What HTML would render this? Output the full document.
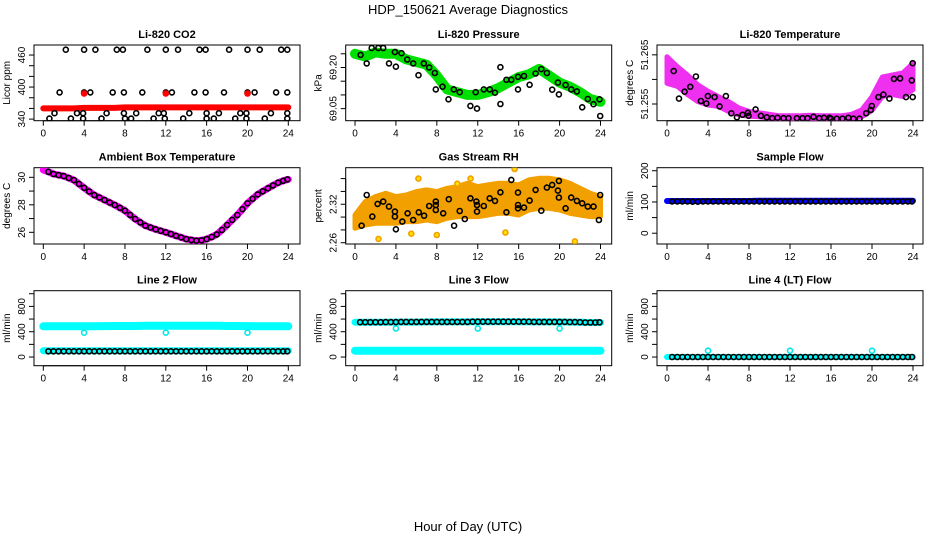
<!DOCTYPE html>
<html><head><meta charset="utf-8">
<style>
html,body{margin:0;padding:0;background:#fff;}
svg{display:block;font-family:"Liberation Sans",Arial,sans-serif;}
</style></head>
<body>
<svg id="chart" width="936" height="540" viewBox="0 0 936 540" xmlns="http://www.w3.org/2000/svg">
<text x="468" y="14" text-anchor="middle" font-size="13">HDP_150621  Average Diagnostics</text>
<text x="468" y="531" text-anchor="middle" font-size="13">Hour of Day (UTC)</text>
</svg>
<script>
// ---------- data ----------
const xTicks = [0,4,8,12,16,20,24];
// CO2
const co2Hours = [2.2,4.0,5.1,7.2,7.8,10.2,12.0,13.2,15.3,15.9,18.2,20.0,21.2,23.3,23.9,
 1.6,4.0,4.6,6.8,7.9,9.7,12.0,12.6,14.8,15.9,17.7,20.0,20.7,22.8,23.9,
 1.1,3.3,3.9,6.2,7.9,9.1,11.3,11.8,14.3,16.0,17.2,19.3,19.9,22.3,23.9,
 0.6,2.7,3.9,5.7,8.0,8.6,10.8,11.9,13.7,16.0,16.7,18.8,19.9,21.7,23.9];
const co2Vals = [470,470,470,470,470,470,470,470,470,470,470,470,470,470,470,
 390,390,390,390,390,390,390,390,390,390,390,390,390,390,390,
 351,351,351,351,351,351,351,351,351,351,351,351,351,351,351,
 341,341,341,341,341,341,341,341,341,341,341,341,341,341,341];
const co2Line = [360,360,360,360,361,361,361,361,362,362,362,362,362,362,362,362,362,362,362,362,362,362,362,362,362];
const co2RedHours = [4.0,12.0,20.0];
const co2RedVals = [388,388,388];
// Pressure
const presLine = [69.25,69.24,69.255,69.25,69.25,69.23,69.22,69.21,69.17,69.12,69.11,69.10,69.10,69.11,69.125,69.145,69.165,69.175,69.195,69.17,69.145,69.13,69.11,69.085,69.075];
const presHours = [0.55,1.14,1.63,2.28,2.76,3.32,3.9,4.0,4.55,5.1,5.69,6.21,6.73,7.25,7.8,7.9,8.55,9.14,9.66,10.24,11.28,11.8,11.93,12.59,13.17,13.69,14.21,14.21,14.8,15.28,15.93,15.93,16.52,17.07,17.66,18.21,18.76,19.28,19.84,19.93,20.59,21.14,21.69,22.21,22.76,23.32,23.9,23.97];
const presVals = [69.246,69.215,69.271,69.271,69.271,69.215,69.256,69.203,69.252,69.229,69.215,69.172,69.215,69.2,69.18,69.12,69.13,69.084,69.12,69.11,69.06,69.11,69.05,69.12,69.12,69.108,69.067,69.201,69.155,69.155,69.12,69.166,69.169,69.137,69.178,69.194,69.18,69.119,69.145,69.102,69.136,69.12,69.113,69.055,69.085,69.066,69.084,69.023];
// Li-820 temperature
const tempCenter = [51.2619,51.2606,51.2589,51.2572,51.2562,51.2555,51.2545,51.2535,51.2530,51.2528,51.2525,51.2523,51.2523,51.2523,51.2524,51.2523,51.2523,51.2523,51.2525,51.2531,51.2551,51.2585,51.2589,51.2589,51.2606];
const tempHalf = [0.0027,0.0020,0.0020,0.0017,0.0014,0.0010,0.0010,0.0007,0.0005,0.0004,0.0004,0.0003,0.0003,0.0003,0.0003,0.0003,0.0003,0.0003,0.0004,0.0007,0.0014,0.0020,0.0020,0.0024,0.0027];
const tempHours = [0.65,1.17,1.72,2.27,2.82,3.31,3.83,3.99,4.64,5.13,5.75,6.27,6.82,7.37,7.89,7.96,8.64,9.16,9.74,10.26,10.78,11.37,11.85,12.67,13.22,13.71,14.29,14.85,15.33,15.85,15.98,16.57,17.12,17.7,18.19,18.78,19.43,19.88,19.98,20.63,21.11,21.7,22.15,22.74,23.32,23.88,23.97,23.97];
const tempVals = [51.2617,51.2561,51.2575,51.2585,51.2606,51.2556,51.2551,51.2566,51.2564,51.2545,51.2566,51.2531,51.2523,51.2528,51.2532,51.2526,51.2539,51.2526,51.2523,51.2521,51.2522,51.2521,51.2521,51.2521,51.2521,51.2521,51.2524,51.2521,51.2522,51.2522,51.2520,51.2520,51.2520,51.2522,51.2520,51.2520,51.2531,51.2538,51.2546,51.2564,51.2569,51.2561,51.2601,51.2602,51.2564,51.2598,51.2564,51.2633];
// Ambient box temperature (every 0.5 h)
const ambVals = [30.53,30.4,30.24,30.16,30.09,29.95,29.8,29.52,29.24,28.97,28.71,28.53,28.35,28.17,27.99,27.78,27.57,27.27,26.97,26.72,26.48,26.35,26.22,26.11,26.0,25.88,25.75,25.63,25.51,25.45,25.39,25.42,25.51,25.66,25.85,26.17,26.53,26.9,27.26,27.68,28.11,28.44,28.76,28.98,29.2,29.41,29.61,29.75,29.85];
// Gas stream RH
const rhCenter = [2.2929,2.3059,2.3111,2.3137,2.3111,2.3137,2.3163,2.3189,2.3163,2.3215,2.3241,2.3267,2.3241,2.3267,2.3293,2.3293,2.3267,2.3345,2.3371,2.3371,2.3345,2.3293,2.3241,2.3189,2.3163];
const rhHalf = [0.0104,0.0182,0.0208,0.0234,0.0208,0.0208,0.0234,0.0234,0.0234,0.0234,0.0234,0.026,0.0234,0.0234,0.0234,0.0234,0.0234,0.0234,0.0234,0.0234,0.0234,0.0234,0.0208,0.0182,0.0156];
const rhOutHours = [6.2,11.3,15.6,2.3,21.5,8.0,5.5,14.7,10.0,19.0];
const rhOutVals = [2.360,2.360,2.375,2.266,2.262,2.272,2.274,2.276,2.352,2.350];
const rhHours = [0.65,1.14,1.69,2.21,2.76,3.32,3.9,3.9,4.0,4.62,5.14,5.69,6.24,6.76,7.25,7.9,7.9,7.9,8.62,9.17,9.69,10.24,10.73,11.28,11.87,11.93,11.93,12.59,13.17,13.69,14.21,14.8,15.28,15.93,15.93,15.93,16.52,17.07,17.66,18.21,18.76,19.28,19.84,19.93,19.93,20.59,21.14,21.69,22.21,22.76,23.32,23.84,23.97];
const rhVals = [2.2866,2.3345,2.3007,2.3205,2.3241,2.3163,2.3085,2.3007,2.2809,2.2929,2.3059,2.2955,2.3075,2.3022,2.3173,2.3241,2.3189,2.3111,2.3059,2.3278,2.2866,2.3095,2.297,2.3293,2.3241,2.3189,2.3085,2.3173,2.3293,2.3252,2.3387,2.3075,2.358,2.3382,2.3189,2.3137,2.3147,2.3257,2.3423,2.31,2.346,2.3502,2.3413,2.3304,2.3564,2.3137,2.3304,2.3252,2.3215,2.3163,2.3163,2.2955,2.3345];
// Flows (line values hourly, black every 0.5 h)
const sampleLine = [103,103,103,103,103,103,103,103,103,104,104,104,104,104,104,104,104,104,104,104,104,104,104,104,104];
const sampleBlack = [102,102,102,102,101,101,102,102,102,102,102,102,102,102,102,102,102,102,102,102,102,102,102,102,102,102,102,102,102,102,102,102,102,102,102,102,102,102,102,102,102,102,102,102,102,102,102,102];
const l2High = [485,485,485,485,485,485,488,490,490,490,495,495,495,495,495,495,495,495,490,490,488,485,485,485,485];
const l2Low = [100,100,100,100,100,100,100,100,100,100,100,100,100,100,100,100,100,100,100,100,100,100,100,100,100];
const l2Black = [90,90,90,90,90,90,90,90,90,90,90,90,90,90,90,90,90,90,90,90,90,90,90,90,90,90,90,90,90,90,90,90,90,90,90,90,90,90,90,90,90,90,90,90,90,90,90,90];
const l2DipHours = [4,12,20];
const l2DipVals = [385,385,385];
const l3High = [550,550,550,550,552,552,552,555,555,555,555,555,558,558,558,558,558,555,555,555,555,552,550,545,545];
const l3Low = [100,100,100,100,100,100,100,100,100,100,100,100,100,100,100,100,100,100,100,100,100,100,100,100,100];
const l3Black = [550,550,550,550,550,552,552,552,555,555,555,555,555,555,555,555,555,555,555,555,555,555,558,558,558,558,558,558,558,558,558,558,558,558,555,555,555,555,555,555,555,552,552,550,545,545,545,548];
const l3DipHours = [4,12,20];
const l3DipVals = [450,450,450];
const l4Line = [0,0,0,0,0,0,0,0,0,0,0,0,0,0,0,0,0,0,0,0,0,0,0,0,0];
const l4Black = [0,0,0,0,0,0,0,0,0,0,0,0,0,0,0,0,0,0,0,0,0,0,0,0,0,0,0,0,0,0,0,0,0,0,0,0,0,0,0,0,0,0,0,0,0,0,0,0];
const l4DipHours = [4,12,20];
const l4DipVals = [100,100,100];

// ---------- drawing ----------
const NS = "http://www.w3.org/2000/svg";
const svg = document.getElementById('chart');
function mk(tag, attrs, parent){
  const e = document.createElementNS(NS, tag);
  for (const k in attrs) e.setAttribute(k, attrs[k]);
  (parent || svg).appendChild(e);
  return e;
}
const cols = [{l:34,r:300,h0:43.3,h24:288.3},{l:345.7,r:611.7,h0:355,h24:600.5},{l:657,r:923,h0:667,h24:913}];
const rows = [{t:45,b:120.7},{t:167.7,b:244},{t:290.7,b:365.7}];

function panel(ci, ri, title, ytitle, ylim, yticks, ylabels, name){
  const c = cols[ci], r = rows[ri];
  const g = mk('g', {});
  
  
  const X = h => c.h0 + (h/24)*(c.h24 - c.h0);
  const Y = v => r.b - (v - ylim[0])/(ylim[1]-ylim[0])*(r.b - r.t);
  const t = mk('text', {x:(c.l+c.r)/2, y:r.t-7, 'text-anchor':'middle', 'font-size':11, 'font-weight':'bold'}, g);
  t.textContent = title;
  
  
  const yt = mk('text', {x:0, y:0, 'text-anchor':'middle', 'font-size':10, transform:`translate(${c.l-24},${(r.t+r.b)/2}) rotate(-90)`}, g);
  yt.textContent = ytitle;
  
  
  const ax = mk('g', {stroke:'#000', 'stroke-width':1}, g);
  
  
  mk('line', {x1:X(0), x2:X(24), y1:r.b, y2:r.b}, ax);
  xTicks.forEach(h => {
    mk('line', {x1:X(h), x2:X(h), y1:r.b, y2:r.b+5}, ax);
    const tl = mk('text', {x:X(h), y:r.b+16, 'text-anchor':'middle', 'font-size':10, stroke:'none'}, g);
    tl.textContent = h;
    
    
  });
  const ay = mk('g', {stroke:'#000', 'stroke-width':1}, g);
  
  
  mk('line', {x1:c.l, x2:c.l, y1:Y(yticks[0]), y2:Y(yticks[yticks.length-1])}, ay);
  yticks.forEach(v => mk('line', {x1:c.l-5, x2:c.l, y1:Y(v), y2:Y(v)}, ay));
  ylabels.forEach(v => {
    const tl = mk('text', {x:0, y:0, 'text-anchor':'middle', 'font-size':10, transform:`translate(${c.l-9},${Y(v)}) rotate(-90)`}, g);
    tl.textContent = v;
    
    
  });
  const box = mk('rect', {x:c.l, y:r.t, width:c.r-c.l, height:r.b-r.t, fill:'none', stroke:'#000', 'stroke-width':1}, g);
  
  
  const clipId = 'clip'+ci+ri;
  const cp = mk('clipPath', {id:clipId}, g);
  mk('rect', {x:c.l, y:r.t, width:c.r-c.l, height:r.b-r.t}, cp);
  const plot = mk('g', {'clip-path':`url(#${clipId})`}, g);
  
  
  return {X, Y, plot};
}
function line(p, vals, color, w, name){
  const pts = vals.map((v,i) => p.X(i*24/(vals.length-1)).toFixed(1)+','+p.Y(v).toFixed(1)).join(' ');
  const e = mk('polyline', {points:pts, fill:'none', stroke:color, 'stroke-width':w, 'stroke-linejoin':'round', 'stroke-linecap':'round'}, p.plot);
  
  
}
function band(p, center, half, color, name){
  const n = center.length;
  const up = center.map((v,i) => p.X(i*24/(n-1)).toFixed(1)+','+p.Y(v+half[i]).toFixed(1));
  const dn = center.map((v,i) => p.X(i*24/(n-1)).toFixed(1)+','+p.Y(v-half[i]).toFixed(1)).reverse();
  const e = mk('polygon', {points:up.concat(dn).join(' '), fill:color, stroke:color, 'stroke-width':5, 'stroke-linejoin':'round'}, p.plot);
  
  
}
function pts(p, hours, vals, color, name, fill){
  vals.forEach((v,i) => {
    const e = mk('circle', {cx:p.X(hours[i]).toFixed(1), cy:p.Y(v).toFixed(1), r:2.5, fill:fill||'none', stroke:color, 'stroke-width':1.6}, p.plot);
    
    
  });
}
const halfHours = l2Black.map((_,i) => Math.min(0.5*(i+1), 23.9));

// Panel 1
let p = panel(0,0,'Li-820 CO2','Licor ppm',[337,478.8],[340,360,380,400,420,440,460],[340,400,460],'co2-panel');
line(p, co2Line, '#ff0000', 6, 'co2-series');
pts(p, co2Hours, co2Vals, '#000', 'co2-point');
pts(p, co2RedHours, co2RedVals, '#ff0000', 'co2-red-point', '#ff0000');
// Panel 2
p = panel(1,0,'Li-820 Pressure','kPa',[69.006,69.282],[69.05,69.10,69.15,69.20,69.25],['69.05','69.20'],'pressure-panel');
line(p, presLine, '#00e000', 10, 'pressure-series');
pts(p, presHours, presVals, '#000', 'pressure-point');
// Panel 3
p = panel(2,0,'Li-820 Temperature','degrees C',[51.2516,51.267],[51.255,51.26,51.265],['51.255','51.265'],'li820-temperature-panel');
band(p, tempCenter, tempHalf, '#f030f0', 'temperature-series');
pts(p, tempHours, tempVals, '#000', 'temperature-point');
// Panel 4
p = panel(0,1,'Ambient Box Temperature','degrees C',[25.15,30.7],[26,27,28,29,30],[26,28,30],'ambient-temperature-panel');
line(p, ambVals, '#ff00ff', 7, 'ambient-series');
pts(p, ambVals.slice(1).map((_,i)=>Math.min(0.5*(i+1),23.9)), ambVals.slice(1), '#000', 'ambient-point');
// Panel 5
p = panel(1,1,'Gas Stream RH','percent',[2.258,2.377],[2.26,2.28,2.30,2.32,2.34,2.36],['2.26','2.32'],'rh-panel');
band(p, rhCenter, rhHalf, '#f2a000', 'rh-series');
pts(p, rhOutHours, rhOutVals, '#f2a000', 'rh-outlier', '#ffe000');
pts(p, rhHours, rhVals, '#000', 'rh-point');
// Panel 6
p = panel(2,1,'Sample Flow','ml/min',[-34.5,209.7],[0,50,100,150,200],[0,100,200],'sample-flow-panel');
line(p, sampleLine, '#0000ff', 6, 'sample-flow-series');
pts(p, halfHours, sampleBlack, '#000', 'sample-flow-point');
// Panel 7
p = panel(0,2,'Line 2 Flow','ml/min',[-137,1048],[0,200,400,600,800,1000],[0,400,800],'line2-flow-panel');
line(p, l2High, '#00ffff', 8, 'line2-high-series');
line(p, l2Low, '#00ffff', 7, 'line2-low-series');
pts(p, l2DipHours, l2DipVals, '#00e8e8', 'line2-dip-point');
pts(p, halfHours, l2Black, '#000', 'line2-point');
// Panel 8
p = panel(1,2,'Line 3 Flow','ml/min',[-137,1048],[0,200,400,600,800,1000],[0,400,800],'line3-flow-panel');
line(p, l3Low, '#00ffff', 8, 'line3-low-series');
line(p, l3High, '#00ffff', 7, 'line3-high-series');
pts(p, l3DipHours, l3DipVals, '#00e8e8', 'line3-dip-point');
pts(p, halfHours, l3Black, '#000', 'line3-point');
// Panel 9
p = panel(2,2,'Line 4 (LT) Flow','ml/min',[-137,1048],[0,200,400,600,800,1000],[0,400,800],'line4-flow-panel');
line(p, l4Line, '#00ffff', 6, 'line4-series');
pts(p, l4DipHours, l4DipVals, '#00e8e8', 'line4-dip-point');
pts(p, halfHours, l4Black, '#000', 'line4-point');
</script>
</body></html>
